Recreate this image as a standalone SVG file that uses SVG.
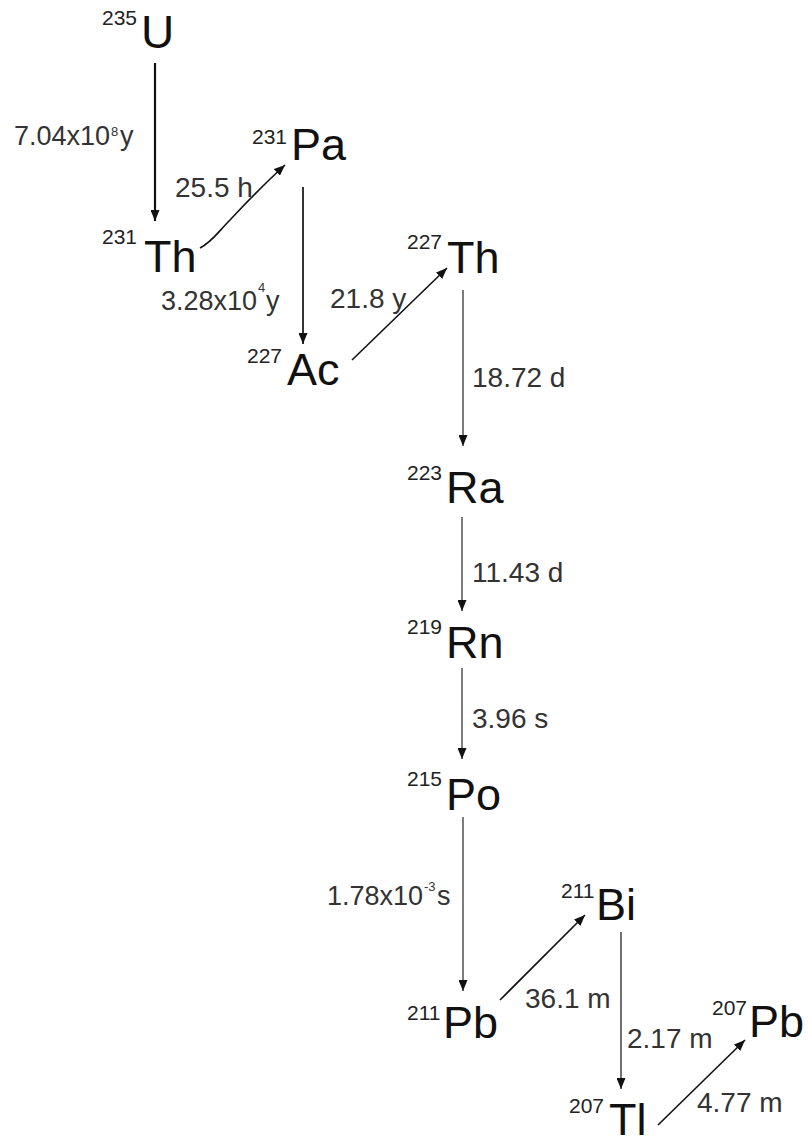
<svg xmlns="http://www.w3.org/2000/svg" width="812" height="1145" viewBox="0 0 812 1145">
<style>
.el{font-family:"Liberation Sans",Arial,sans-serif;font-size:45px;fill:#111}
.iso{font-family:"Liberation Sans",Arial,sans-serif;font-size:21px;fill:#222}
.lbl{font-family:"Liberation Sans",Arial,sans-serif;font-size:28px;fill:#333}
.lbs{font-family:"Liberation Sans",Arial,sans-serif;font-size:13px;fill:#333}
.arr{stroke:#111;stroke-width:1.4;fill:none;marker-end:url(#ah)}
</style>
<defs>
<marker id="ah" markerUnits="userSpaceOnUse" markerWidth="11" markerHeight="9" refX="11" refY="4.5" orient="auto">
<path d="M0,0 L11,4.5 L0,9 z" fill="#111"/>
</marker>
</defs>
<rect width="812" height="1145" fill="#fff"/>
<g id="connectors">
<line class="arr" x1="155" y1="63" x2="155" y2="221" style="stroke-width:2.2"/>
<path class="arr" d="M200,248 C212,242 218,232 230,220 C245,204 262,186 285,165" style="stroke-width:1.6"/>
<line class="arr" x1="303" y1="187" x2="303" y2="344" style="stroke-width:1.7"/>
<line class="arr" x1="352" y1="360" x2="447" y2="268" style="stroke-width:1.6"/>
<line class="arr" x1="463" y1="290" x2="463" y2="446" style="stroke-width:1.1"/>
<line class="arr" x1="462" y1="517" x2="462" y2="611" style="stroke-width:1.1"/>
<line class="arr" x1="462" y1="668" x2="462" y2="759" style="stroke-width:1.1"/>
<line class="arr" x1="463" y1="817" x2="463" y2="991" style="stroke-width:1.1"/>
<line class="arr" x1="500" y1="1000" x2="585" y2="915" style="stroke-width:1.6"/>
<line class="arr" x1="621" y1="932" x2="621" y2="1089" style="stroke-width:1.2"/>
<line class="arr" x1="658" y1="1125" x2="745" y2="1040" style="stroke-width:1.6"/>
</g>
<g id="labels">
<text class="lbl" y="145" style="font-size:27px"><tspan x="14">7.04x10</tspan><tspan class="lbs" x="111" y="136">8</tspan><tspan x="120" y="145">y</tspan></text>
<text class="lbl" x="175" y="197">25.5 h</text>
<text class="lbl" y="310" style="font-size:27px"><tspan x="161">3.28x10</tspan><tspan class="lbs" x="258" y="292">4</tspan><tspan x="266" y="310">y</tspan></text>
<text class="lbl" x="330" y="308">21.8 y</text>
<text class="lbl" x="472" y="387">18.72 d</text>
<text class="lbl" x="472" y="582">11.43 d</text>
<text class="lbl" x="472" y="728">3.96 s</text>
<text class="lbl" y="905" style="font-size:27px"><tspan x="327">1.78x10</tspan><tspan class="lbs" x="424" y="891">-3</tspan><tspan x="437" y="905">s</tspan></text>
<text class="lbl" x="525" y="1008">36.1 m</text>
<text class="lbl" x="627" y="1048">2.17 m</text>
<text class="lbl" x="697" y="1112">4.77 m</text>
</g>
<g id="U235"><text class="iso" x="102" y="25">235</text><text class="el" x="141" y="48" style="font-size:46px">U</text></g>
<g id="Th231"><text class="iso" x="102" y="244">231</text><text class="el" x="144" y="272">Th</text></g>
<g id="Pa231"><text class="iso" x="252" y="144">231</text><text class="el" x="291" y="160">Pa</text></g>
<g id="Th227"><text class="iso" x="407" y="249">227</text><text class="el" x="447" y="273">Th</text></g>
<g id="Ac227"><text class="iso" x="247" y="363">227</text><text class="el" x="287" y="385">Ac</text></g>
<g id="Ra223"><text class="iso" x="407" y="480">223</text><text class="el" x="446" y="503">Ra</text></g>
<g id="Rn219"><text class="iso" x="407" y="634">219</text><text class="el" x="446" y="658">Rn</text></g>
<g id="Po215"><text class="iso" x="407" y="786">215</text><text class="el" x="446" y="810">Po</text></g>
<g id="Bi211"><text class="iso" x="561" y="898">211</text><text class="el" x="596" y="920">Bi</text></g>
<g id="Pb211"><text class="iso" x="407" y="1020">211</text><text class="el" x="443" y="1038">Pb</text></g>
<g id="Pb207"><text class="iso" x="712" y="1015">207</text><text class="el" x="749" y="1037">Pb</text></g>
<g id="Tl207"><text class="iso" x="569" y="1113">207</text><text class="el" x="609" y="1135">Tl</text></g>
</svg>
